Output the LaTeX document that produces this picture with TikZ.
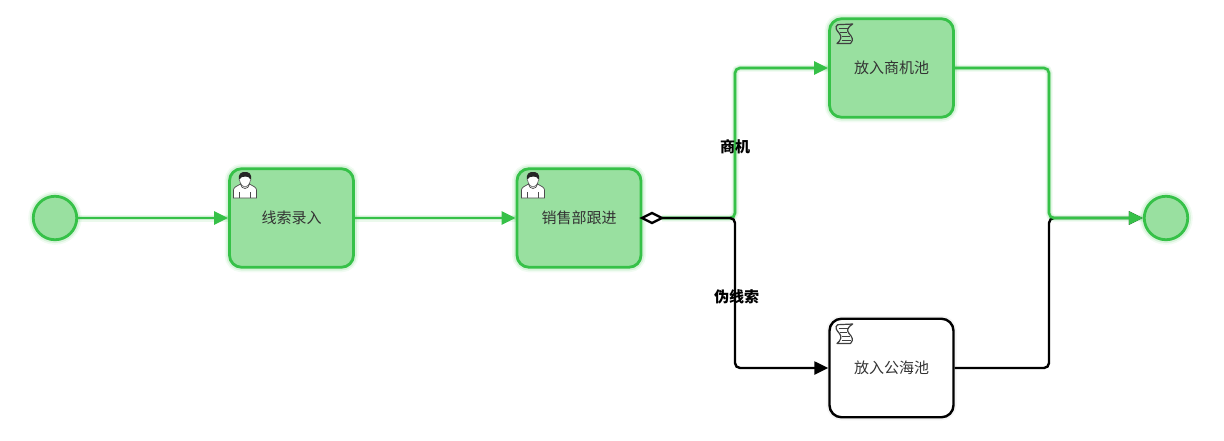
\documentclass[tikz,border=0pt]{standalone}
\usepackage{fontspec}
\setmainfont{Noto Sans CJK SC}
\usetikzlibrary{arrows.meta,shapes.geometric}
\definecolor{flowgreen}{HTML}{36C148}
\definecolor{flowfill}{HTML}{99E0A0}
\definecolor{tasktext}{HTML}{333333}
\tikzstyle{glow}=[preaction={draw=flowgreen,line width=10pt,opacity=.07},preaction={draw=flowgreen,line width=6.5pt,opacity=.14}]
\tikzstyle{box}=[rounded corners=12pt,line width=2.8pt,minimum width=124pt,minimum height=98.5pt,inner sep=0pt,text=tasktext,font=\fontsize{15pt}{17pt}\selectfont]
\tikzstyle{task}=[box,glow,draw=flowgreen,fill=flowfill]
\tikzstyle{idle task}=[box,draw=black,fill=white,line width=2.4pt,preaction={draw=black,line width=6pt,opacity=.04}]
\tikzstyle{event}=[circle,glow,draw=flowgreen,fill=flowfill,line width=2.8pt,minimum size=43.5pt,inner sep=0pt]
\tikzstyle{gateway}=[diamond,draw=black,fill=white,line width=2.4pt,minimum width=20pt,minimum height=10pt,inner sep=0pt,outer sep=0pt]
\tikzstyle{flow}=[draw=flowgreen,line width=2.6pt,rounded corners=5pt,-{Triangle[length=14pt,width=13pt]},preaction={draw=flowgreen,line width=7pt,opacity=.10,arrows=-},preaction={draw=flowgreen,line width=4.5pt,opacity=.16,arrows=-}]
\tikzstyle{idle flow}=[draw=black,line width=2.4pt,rounded corners=5pt,-{Triangle[length=14pt,width=13pt]}]
\tikzstyle{flow label}=[inner sep=0pt,text=black,font=\fontsize{15pt}{17pt}\selectfont\bfseries]
\tikzset{
  usericon/.pic={
    \draw[fill=white,line width=.7pt,draw=black!70] (0,26) -- (0,18) .. controls (0,15) and (4,14) .. (7,12) -- (16,12) .. controls (19,14) and (23,15) .. (23,18) -- (23,26) -- cycle;
    \draw[fill=white,line width=.7pt,draw=black!70] (7,12) .. controls (8,18) and (15,18) .. (16,12);
    \fill[white] (11.5,7) circle (6pt);
    \draw[fill=black!85,draw=none] (5.5,8) .. controls (4.5,1) and (8,0) .. (11.5,0) .. controls (15,0) and (18.5,1) .. (17.5,8) .. controls (16,5) and (14,4.5) .. (12,4.5) .. controls (9,4.5) and (7,5) .. (5.5,8) -- cycle;
    \draw[line width=.6pt,draw=black!70] (6,8) .. controls (7,13) and (9,15) .. (11.5,15) .. controls (14,15) and (16,13) .. (17,8);
    \draw[line width=.6pt,draw=black!70] (6,20) -- (6,26) (17,20) -- (17,26);
  },
  scripticon/.pic={
    \draw[line width=1.2pt,draw=black!75,line join=round] (2.7,.7) -- (17.7,0) .. controls (13,3) and (11,6) .. (14,9.5) .. controls (17,12.5) and (19,16) .. (15.5,19.5) -- (2,19.5) .. controls (6,16) and (7,13) .. (4.5,9.5) .. controls (2,7) and (-1,3) .. (2.7,.7) -- cycle;
    \foreach \ya/\xa/\xb in {4/3.5/13.5,8/5/12,12/7/15,16/6.5/16}
      \draw[line width=.9pt,draw=black!75] (\xa,\ya) -- (\xb,\ya);
  }
}
\begin{document}
\begin{tikzpicture}[x=1pt,y=-1pt]
	\useasboundingbox (0,0) rectangle (1224,440);
	\node[event] (start) at (55,218) {};
	\node[task] (lead) at (291.5,218) {线索录入};
	\node[task] (follow) at (579,218) {销售部跟进};
	\node[task] (bizpool) at (891.5,68) {放入商机池};
	\node[idle task] (seapool) at (891.5,368) {放入公海池};
	\node[event] (end) at (1166,218) {};
	\coordinate (split) at (735,218);
	\coordinate (merge) at (1049,218);
	\node[gateway] (gate) at (652,218) {};
	% Icons sit in the corner of each task
	\pic at (233.5,172) {usericon};
	\pic at (521.5,172) {usericon};
	\pic at (835,24) {scripticon};
	\pic at (835,324) {scripticon};
	% Connect tasks with flows
	\foreach \source/ \dest in {start/lead, lead/follow}
	\path[flow] (\source) to (\dest);
	\path[flow] (gate.east) -- (split) |- (bizpool.west);
	\path[idle flow] (gate.east) -- (split) |- (seapool.west);
	\path[idle flow] (seapool.east) -| (merge) -- (end.west);
	\path[flow] (bizpool.east) -| (merge) -- (end.west);
	\node[flow label] (bizlabel) at (735,147) {商机};
	\node[flow label] (fakelabel) at (736.5,297) {伪线索};
\end{tikzpicture}
\end{document}
